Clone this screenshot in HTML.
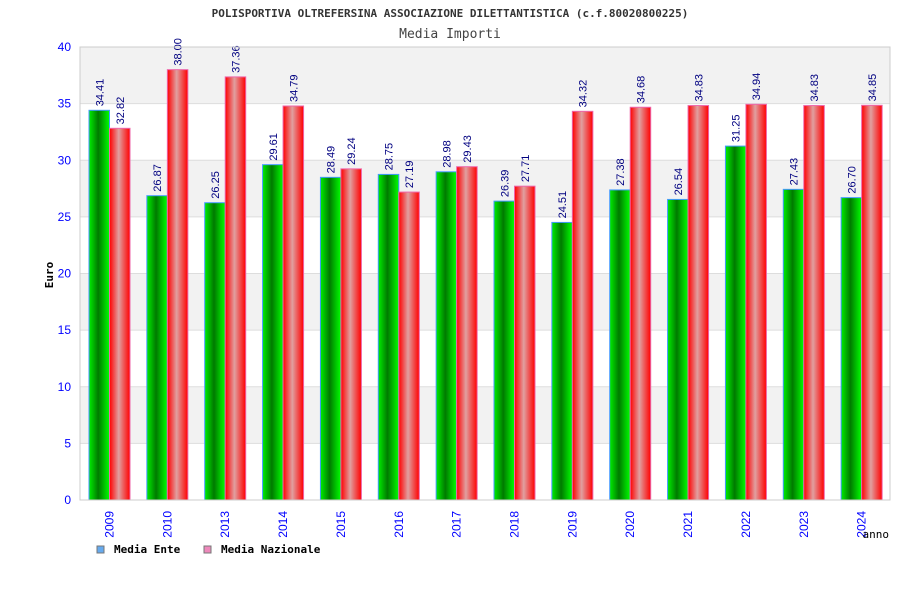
<!DOCTYPE html>
<html><head><meta charset="utf-8"><style>
body{margin:0;background:#fff}
svg text{font-family:"DejaVu Sans Mono","Liberation Mono",monospace}
svg text.s{font-family:"Liberation Sans","DejaVu Sans",sans-serif}
</style></head><body>
<svg id="chart" width="900" height="600" xmlns="http://www.w3.org/2000/svg">
<defs>
<linearGradient id="gG" x1="0" x2="1"><stop offset="0" stop-color="#00ee00"/><stop offset="0.45" stop-color="#007a00"/><stop offset="1" stop-color="#00ff00"/></linearGradient>
<linearGradient id="gR" x1="0" x2="1"><stop offset="0" stop-color="#ff0000"/><stop offset="0.45" stop-color="#e0a0a0"/><stop offset="1" stop-color="#ff0000"/></linearGradient>
</defs>
<text x="450" y="17" text-anchor="middle" font-size="11" font-weight="bold" fill="#333">POLISPORTIVA OLTREFERSINA ASSOCIAZIONE DILETTANTISTICA (c.f.80020800225)</text>
<text x="450" y="38" text-anchor="middle" font-size="13" fill="#444">Media Importi</text>
<g id="grid"></g><g id="bars"></g><g id="axes"></g>
<text transform="translate(53,275) rotate(-90)" text-anchor="middle" font-size="11" font-weight="bold" fill="#000">Euro</text>
<text x="889" y="538" text-anchor="end" font-size="11" fill="#000">anno</text>
<g>
<rect x="97" y="546" width="7" height="7" fill="#66aaee" stroke="#777"/>
<text x="114" y="553" font-size="11" font-weight="bold">Media Ente</text>
<rect x="204" y="546" width="7" height="7" fill="#ee88bb" stroke="#777"/>
<text x="221" y="553" font-size="11" font-weight="bold">Media Nazionale</text>
</g>
</svg>
<script>
const categories=["2009","2010","2013","2014","2015","2016","2017","2018","2019","2020","2021","2022","2023","2024"];
const ente=[34.41,26.87,26.25,29.61,28.49,28.75,28.98,26.39,24.51,27.38,26.54,31.25,27.43,26.70];
const nazionale=[32.82,38.00,37.36,34.79,29.24,27.19,29.43,27.71,34.32,34.68,34.83,34.94,34.83,34.85];
const yTicks=[0,5,10,15,20,25,30,35,40];
const NS="http://www.w3.org/2000/svg";
const L=80,R=890,T=47,B=500,YMAX=40;
const y=v=>B-(v/YMAX)*(B-T);
const slot=(R-L)/categories.length;
const gx=i=>L+i*slot;
function mk(tag,attrs,parent){const e=document.createElementNS(NS,tag);for(const k in attrs)e.setAttribute(k,attrs[k]);parent.appendChild(e);return e;}
const grid=document.getElementById('grid'),bars=document.getElementById('bars'),axes=document.getElementById('axes');
for(let i=0;i<yTicks.length-1;i++){
  const band=mk('rect',{x:L,y:y(yTicks[i+1]),width:R-L,height:y(yTicks[i])-y(yTicks[i+1]),fill:(yTicks.length-2-i)%2===0?'#f2f2f2':'#fff'},grid);
  
  
}
yTicks.forEach(t=>{
  const ln=mk('line',{x1:L,x2:R,y1:y(t),y2:y(t),stroke:'#ddd'},grid);
  
  
  const tx=mk('text',{class:'s',x:71,y:y(t)+4,'text-anchor':'end','font-size':12,fill:'#0000ff'},axes);
  tx.textContent=t;
  
  
});
const frame=mk('rect',{x:L,y:T,width:R-L,height:B-T,fill:'none',stroke:'#ccc'},axes);


const bw=20.5,off=9;
categories.forEach((c,i)=>{
  const x0=gx(i)+off;
  [[ente[i],'url(#gG)','#4499ff','bar-ente'],[nazionale[i],'url(#gR)','#ee66aa','bar-nazionale']].forEach((s,j)=>{
    const bx=x0+j*bw;
    const r=mk('rect',{x:bx,y:y(s[0]),width:bw,height:B-y(s[0]),fill:s[1],stroke:s[2],'stroke-width':1},bars);
    
    
    const lb=mk('text',{class:'s',transform:`translate(${bx+bw/2+4},${y(s[0])-4}) rotate(-90)`,'font-size':11,fill:'#000080'},bars);
    lb.textContent=s[0].toFixed(2);
    
    
  });
  const cx=x0+bw;
  const xl=mk('text',{class:'s',transform:`translate(${cx+4},511) rotate(-90)`,'text-anchor':'end','font-size':12,fill:'#0000ff'},axes);
  xl.textContent=c;
  
  
});
</script>
</body></html>
